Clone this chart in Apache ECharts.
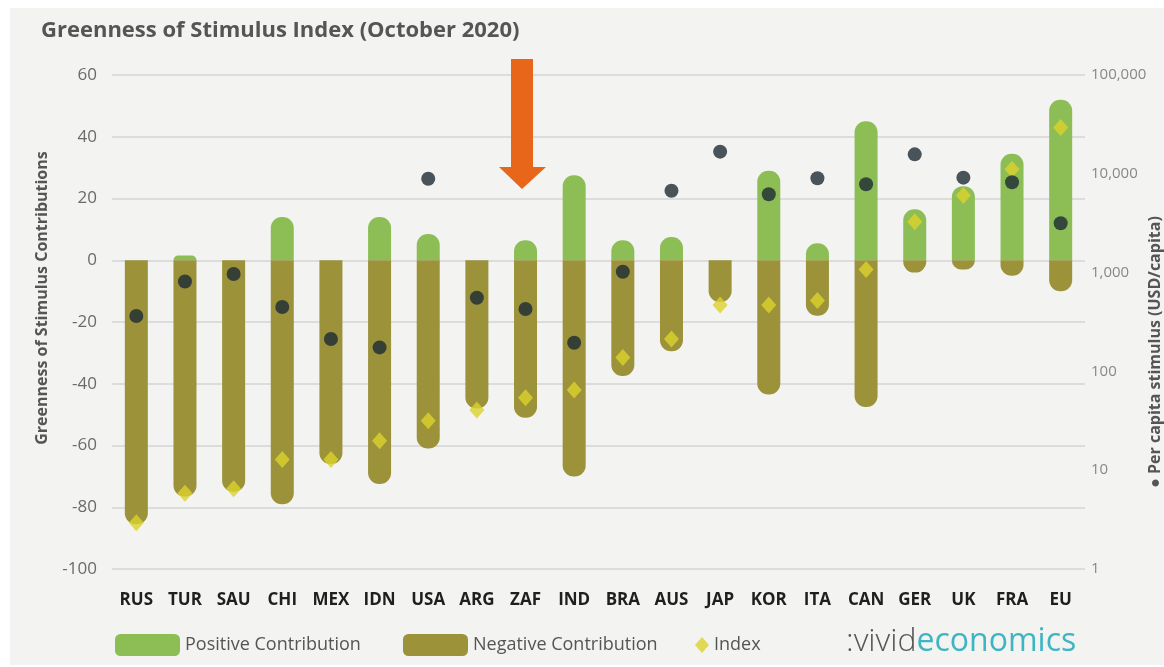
<!DOCTYPE html>
<html>
<head>
<meta charset="utf-8">
<script src="https://cdn.jsdelivr.net/npm/echarts@6/dist/echarts.min.js"></script>
<style>
html,body{margin:0;padding:0;background:#ffffff;}
#bg{position:absolute;left:10px;top:8px;width:1154px;height:657px;background:#f3f3f1;}
#chart{position:absolute;left:0;top:0;width:1164px;height:667px;}
</style>
</head>
<body>
<div id="bg"></div>
<div id="chart"></div>
<script>
const categories = ['RUS','TUR','SAU','CHI','MEX','IDN','USA','ARG','ZAF','IND','BRA','AUS','JAP','KOR','ITA','CAN','GER','UK','FRA','EU'];
const positiveContribution = [0, 1.5, 0, 14, 0, 14, 8.5, 0, 6.5, 27.5, 6.5, 7.5, 0, 29, 5.5, 45, 16.5, 24, 34.5, 52];
const negativeContribution = [-85.5, -76.5, -75, -79, -66, -72.5, -61, -48, -51, -70, -37.5, -29.5, -13.5, -43.5, -18, -47.5, -4, -3, -5, -10];
const indexValues = [-85, -75.5, -74, -64.5, -64.5, -58.5, -52, -48.5, -44.5, -42, -31.5, -25.5, -14.5, -14.5, -13, -3, 12.5, 21, 29.5, 43];
const perCapitaStimulus = [364, 813, 968, 449, 213, 175, 8920, 557, 428, 195, 1021, 6745, 16750, 6205, 9000, 7830, 15740, 9140, 8200, 3155];

const FONT = '"Open Sans", "Noto Sans", sans-serif';
const chart = echarts.init(document.getElementById('chart'), null, {renderer: 'canvas'});

const legendText = {fontFamily: FONT, fontSize: 18, color: '#555555'};

chart.setOption({
  animation: false,
  textStyle: {fontFamily: FONT},
  title: {
    text: 'Greenness of Stimulus Index (October 2020)',
    left: 36, top: 15,
    textStyle: {fontFamily: FONT, fontSize: 22, fontWeight: 700, color: '#555555'}
  },
  grid: {left: 112, right: 79, top: 75, bottom: 98},
  legend: [
    {
      data: ['Positive Contribution'],
      left: 110, top: 629,
      itemWidth: 65, itemHeight: 22, itemGap: 10,
      icon: 'roundRect',
      textStyle: legendText
    },
    {
      data: ['Negative Contribution'],
      left: 398, top: 629,
      itemWidth: 65, itemHeight: 22, itemGap: 10,
      icon: 'roundRect',
      textStyle: legendText
    },
    {
      data: ['Index'],
      left: 690, top: 631,
      itemWidth: 14, itemHeight: 16, itemGap: 6,
      icon: 'diamond',
      textStyle: legendText
    }
  ],
  xAxis: {
    type: 'category',
    data: categories,
    axisLine: {show: false},
    axisTick: {show: false},
    axisLabel: {margin: 23, fontFamily: FONT, fontSize: 17, fontWeight: 700, color: '#1f1f1f', interval: 0}
  },
  yAxis: [
    {
      type: 'value',
      min: -100, max: 60, interval: 20,
      axisLine: {show: false},
      axisTick: {show: false},
      axisLabel: {margin: 15, fontFamily: FONT, fontSize: 17, color: '#6a6a6a'},
      splitLine: {lineStyle: {color: '#dcdcdc', width: 2}}
    },
    {
      type: 'log', logBase: 10,
      min: 1, max: 100000,
      position: 'right',
      axisLine: {show: false},
      axisTick: {show: false},
      splitLine: {show: false},
      axisLabel: {
        margin: 6, fontFamily: FONT, fontSize: 15, color: '#888888',
        formatter: function (v) { return Math.round(v).toLocaleString('en-US'); }
      }
    }
  ],
  graphic: [
    {
      type: 'text',
      x: 42, y: 298, rotation: Math.PI / 2,
      style: {
        text: 'Greenness of Stimulus Contributions',
        fontFamily: FONT, fontSize: 16, fontWeight: 700, fill: '#555555',
        align: 'center', verticalAlign: 'middle'
      }
    },
    {
      type: 'text',
      x: 1155, y: 352, rotation: Math.PI / 2,
      style: {
        text: '● Per capita stimulus (USD/capita)',
        fontFamily: FONT, fontSize: 16, fontWeight: 700, fill: '#555555',
        align: 'center', verticalAlign: 'middle'
      }
    },
    {
      type: 'polygon',
      shape: {points: [[511, 59], [533, 59], [533, 167], [546, 167], [522, 189], [499, 167], [511, 167]]},
      style: {fill: '#e8661a'},
      z: 100
    },
    {
      type: 'text',
      x: 846, y: 642,
      style: {
        text: '{a|:vivid}{b|economics}',
        verticalAlign: 'middle',
        rich: {
          a: {fontFamily: FONT, fontSize: 32, fontWeight: 300, fill: '#555555', color: '#555555'},
          b: {fontFamily: FONT, fontSize: 32, fontWeight: 400, fill: '#3db5c2', color: '#3db5c2'}
        }
      }
    }
  ],
  series: [
    {
      name: 'Positive Contribution',
      type: 'bar',
      data: positiveContribution,
      barWidth: 23,
      barGap: '-100%',
      itemStyle: {color: '#8cbe55', borderRadius: [11, 11, 0, 0]}
    },
    {
      name: 'Negative Contribution',
      type: 'bar',
      data: negativeContribution,
      barWidth: 23,
      barGap: '-100%',
      itemStyle: {color: '#9b923a', borderRadius: [0, 0, 11, 11]}
    },
    {
      name: 'Index',
      type: 'scatter',
      data: indexValues,
      symbol: 'diamond',
      symbolSize: [15, 17],
      itemStyle: {color: '#dcd22c'},
      z: 3
    },
    {
      name: 'Per capita stimulus',
      type: 'scatter',
      yAxisIndex: 1,
      data: perCapitaStimulus,
      symbol: 'circle',
      symbolSize: 14,
      itemStyle: {color: '#1d2a34'},
      z: 4
    }
  ]
});
</script>
</body>
</html>
